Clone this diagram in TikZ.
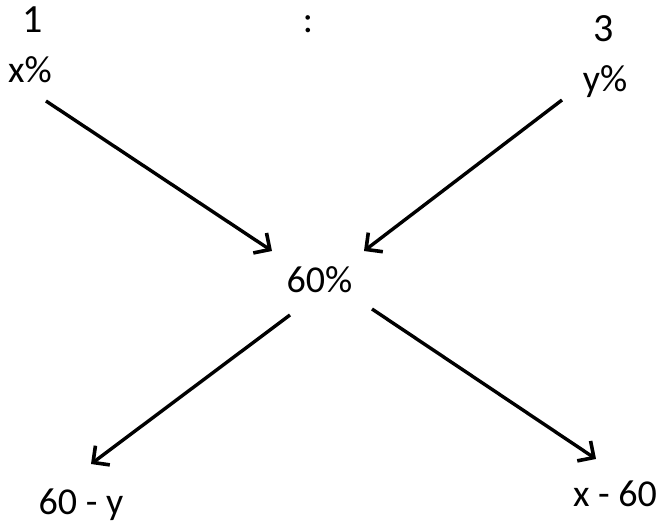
\documentclass[tikz,border=0pt]{standalone}
\usepackage{fontspec}
\setmainfont{Carlito}
\usetikzlibrary{arrows.meta}
\begin{document}
\begin{tikzpicture}[x=1pt,y=-1pt,
  lbl/.style={anchor=base,inner sep=0pt,font=\fontsize{38}{40}\selectfont},
  arr/.style={line width=3.4pt,-{Straight Barb[length=12pt,width=24pt,line width=3.6pt]}}]
\useasboundingbox[fill=white] (0,0) rectangle (665,526);
\node[lbl,font=\fontsize{40}{42}\selectfont] (one) at (33,33) {1};
\node[lbl] (xp) at (30,83) {x\%};
\node[lbl] (colon) at (308,33) {:};
\node[lbl,font=\fontsize{40}{42}\selectfont] (three) at (604,42) {3};
\node[lbl] (yp) at (605,92) {y\%};
\node[lbl] (mid) at (319.5,293) {60\%};
\node[lbl] (ly) at (81,515) {60 - y};
\node[lbl] (lx) at (615,507) {x - 60};
\coordinate (a1s) at (46,101);
\coordinate (a1e) at (272,251);
\coordinate (a2s) at (562,100);
\coordinate (a2e) at (364,251);
\coordinate (a3s) at (290,315);
\coordinate (a3e) at (91,464);
\coordinate (a4s) at (372,309);
\coordinate (a4e) at (596,459);
\draw[arr] (a1s) -- (a1e);
\draw[arr] (a2s) -- (a2e);
\draw[arr] (a3s) -- (a3e);
\draw[arr] (a4s) -- (a4e);
\end{tikzpicture}
\end{document}
